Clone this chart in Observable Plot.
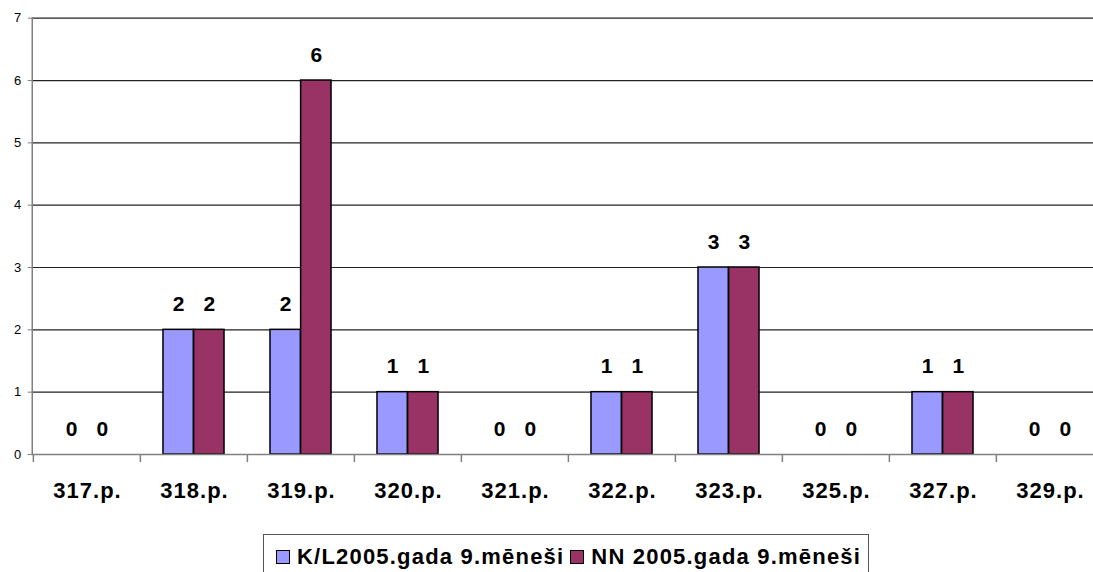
<!DOCTYPE html>
<html>
<head>
<meta charset="utf-8">
<script src="https://cdn.jsdelivr.net/npm/d3@7"></script>
<script src="https://cdn.jsdelivr.net/npm/@observablehq/plot@0.6"></script>
<style>
  html, body { margin: 0; padding: 0; background: #fff; overflow: hidden; }
  body { width: 1093px; height: 572px; position: relative; font-family: "Liberation Sans", Arial, sans-serif; }
  #chart svg { display: block; }
  #legend {
    position: absolute; left: 263px; top: 534px; width: 606px; height: 60px;
    border: 1px solid #555; box-sizing: border-box; background: #fff;
    font-weight: bold; font-size: 22px; letter-spacing: 1.2px; color: #000;
    display: flex; align-items: flex-start; padding-top: 9px; padding-left: 12px; white-space: nowrap;
  }
  .item { display: inline-flex; align-items: center; margin-right: 6px; }
  .sw { width: 12px; height: 12px; border: 1px solid #000; margin-right: 7px; display: inline-block; }
</style>
</head>
<body>
<div id="chart"></div>
<div id="legend"></div>
<script>
const categories = ["317.p.", "318.p.", "319.p.", "320.p.", "321.p.", "322.p.", "323.p.", "325.p.", "327.p.", "329.p."];
const seriesKL = [0, 2, 2, 1, 0, 1, 3, 0, 1, 0];
const seriesNN = [0, 2, 6, 1, 0, 1, 3, 0, 1, 0];
const seriesNames = ["K/L2005.gada 9.mēneši", "NN 2005.gada 9.mēneši"];
const seriesColors = ["#9999FF", "#993366"];
const yTicks = [0, 1, 2, 3, 4, 5, 6, 7];

const rowsKL = categories.map((c, i) => ({cat: c, value: seriesKL[i]}));
const rowsNN = categories.map((c, i) => ({cat: c, value: seriesNN[i]}));

const band = (1104 - 31.75) / categories.length;
const half = band / 2;
const barW = band / 3.5;
const font = "Liberation Sans, Arial, sans-serif";

const chart = Plot.plot({
  width: 1093,
  height: 525,
  marginLeft: 31.75,
  marginRight: 0,
  marginTop: 17.7,
  marginBottom: 71,
  style: {overflow: "hidden", fontFamily: font, background: "#fff"},
  x: {type: "band", domain: categories, range: [31.75, 1104], padding: 0, axis: null},
  y: {domain: [0, 7], range: [454, 17.7], axis: null},
  marks: [
    Plot.ruleY(yTicks.filter(d => d > 0), {stroke: "#222", strokeWidth: 1.2}),
    Plot.barY(rowsKL.filter(d => d.value > 0), {x: "cat", y: "value", fill: seriesColors[0], stroke: "#000", strokeWidth: 1.5, insetLeft: half - barW, insetRight: half}),
    Plot.barY(rowsNN.filter(d => d.value > 0), {x: "cat", y: "value", fill: seriesColors[1], stroke: "#000", strokeWidth: 1.5, insetLeft: half, insetRight: half - barW}),
    Plot.ruleY([0], {stroke: "#808080", strokeWidth: 1.5}),
    Plot.frame({anchor: "left", stroke: "#808080", strokeWidth: 1.5}),
    Plot.ruleX(categories, {x: d => d, dx: -half, y1: 0, y2: -0.13, stroke: "#808080", strokeWidth: 1.5}),
    Plot.axisY({ticks: yTicks, tickFormat: d3.format("d"), tickSize: 4, tickPadding: 7, fontSize: 13, stroke: "#808080", label: null, fill: "#000"}),
    Plot.text(rowsKL, {x: "cat", y: "value", text: d => String(d.value), dx: -barW / 2, dy: -19, lineAnchor: "bottom", fontSize: 21, fontWeight: "bold", fill: "#000"}),
    Plot.text(rowsNN, {x: "cat", y: "value", text: d => String(d.value), dx: barW / 2, dy: -19, lineAnchor: "bottom", fontSize: 21, fontWeight: "bold", fill: "#000"}),
    Plot.text(categories, {x: d => d, y: 0, dx: 0.5, dy: 43.7, lineAnchor: "bottom", fontSize: 22, fontWeight: "bold", fill: "#000", text: d => d})
  ]
});
chart.querySelectorAll("text").forEach(t => { if (/\.p\.$/.test(t.textContent)) t.setAttribute("letter-spacing", "1"); });
document.getElementById("chart").appendChild(chart);

const legend = document.getElementById("legend");
seriesNames.forEach((name, i) => {
  const item = document.createElement("span");
  item.className = "item";
  const sw = document.createElement("span");
  sw.className = "sw";
  sw.style.background = seriesColors[i];
  item.appendChild(sw);
  item.appendChild(document.createTextNode(name));
  legend.appendChild(item);
});
</script>
</body>
</html>
